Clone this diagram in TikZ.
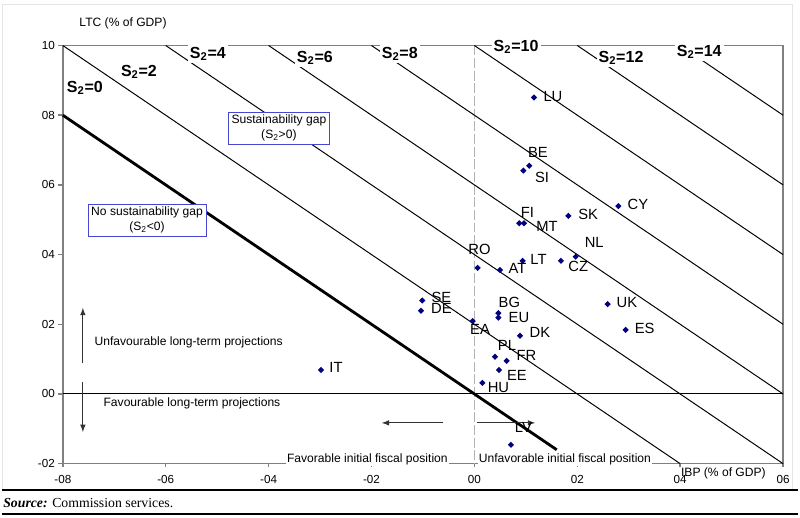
\documentclass[tikz,border=0pt]{standalone}
\usepackage{fontspec}
\setmainfont{Liberation Sans}
\newfontfamily\srcfont{Liberation Serif}
\usetikzlibrary{positioning, arrows, shapes.geometric}
\definecolor{navy}{RGB}{0,0,128}
\definecolor{boxblue}{RGB}{70,70,210}

\begin{document}
\begin{tikzpicture}[x=1.2863cm, y=0.87125cm,
	pt/.style={diamond, fill=navy, inner sep=0pt, minimum size=4.6pt},
	lbl/.style={font=\fontsize{10.5}{12}\selectfont, inner sep=0pt},
	tick/.style={font=\fontsize{8.3}{10}\selectfont, inner sep=0pt},
	sval/.style={font=\fontsize{11.4}{13}\selectfont\bfseries, fill=white, inner sep=1.5pt},
	gapbox/.style={draw=boxblue, fill=white, align=center, font=\fontsize{8.6}{10.7}\selectfont, minimum height=22.8pt, inner sep=1pt},
	note/.style={font=\fontsize{8.6}{10}\selectfont, inner sep=1pt},
	frame/.style={gray, line width=1pt},
	arr/.style={-latex, black!80, line width=0.8pt}]
	\useasboundingbox (-9.221,-3.558) rectangle (6.329,11.306);
	\draw[gray!20] (-9.18,11.19) rectangle (6.17,-2.755);

	\draw[frame] (-8,-2) rectangle (6,10);
	\foreach \v in {-2,0,...,10}
		\draw[frame] (-8,\v) -- ++(-0.1,0);
	\foreach \v in {-8,-6,...,6}
		\draw[frame] (\v,-2) -- ++(0,-0.09);
	\draw[gray!60, line width=0.8pt, dash pattern=on 7pt off 2pt] (0,10) -- (0,-2);
	\draw[line width=0.7pt] (-8,0) -- (6,0);

	\foreach \c [evaluate=\c as \ex using {min(6,\c+2)}, evaluate=\c as \ey using {max(-2,\c-6)}] in {2,4,...,14}
		\draw[line width=0.7pt] (\c-10,10) -- (\ex,\ey);
	\draw[line width=2pt] (-8,8) -- (1.6,-1.6);

	\foreach \k/\x/\y in {0/-7.57/8.78, 2/-6.52/9.24, 4/-5.18/9.76, 6/-3.10/9.64, 8/-1.45/9.76, 10/0.81/9.96, 12/2.85/9.64, 14/4.37/9.81}
		\node[sval] (s\k) at (\x,\y) {S\textsubscript{2}=\k};

	\node[gapbox, minimum width=72pt] (gap) at (-3.80,7.63) {Sustainability gap\\(S\textsubscript{2}>0)};
	\node[gapbox, minimum width=84pt] (nogap) at (-6.364,4.99) {No sustainability gap\\(S\textsubscript{2}<0)};

	\coordinate (up0) at (-7.61,0.89);
	\coordinate (up1) at (-7.61,2.47);
	\coordinate (dn0) at (-7.61,0.34);
	\coordinate (dn1) at (-7.61,-1.09);
	\coordinate (lf0) at (-0.61,-0.83);
	\coordinate (lf1) at (-1.80,-0.83);
	\coordinate (rt0) at (0.05,-0.83);
	\coordinate (rt1) at (1.18,-0.83);
	\draw[arr] (up0) -- (up1);
	\draw[arr] (dn0) -- (dn1);
	\draw[arr] (lf0) -- (lf1);
	\draw[arr] (rt0) -- (rt1);

	\node[note, anchor=west] (unfl) at (-7.415,1.49) {Unfavourable long-term projections};
	\node[note, anchor=west] (favl) at (-7.24,-0.26) {Favourable long-term projections};
	\node[note, fill=white] (favi) at (-2.08,-1.87) {Favorable initial fiscal position};
	\node[note, fill=white] (unfi) at (1.76,-1.87) {Unfavorable initial fiscal position};

	\foreach \n/\mx/\my/\lx/\ly in {LU/1.158/8.51/1.527/8.55, BE/1.067/6.55/1.236/6.93, SI/0.951/6.41/1.314/6.21,
		CY/2.797/5.39/3.18/5.44, SK/1.825/5.11/2.21/5.15, FI/0.873/4.90/1.03/5.21, MT/0.964/4.90/1.41/4.81,
		NL/1.969/3.94/2.33/4.35, CZ/1.683/3.82/2.02/3.67, LT/0.938/3.82/1.246/3.86, AT/0.498/3.56/0.838/3.60,
		RO/0.064/3.62/0.099/4.16, SE/-1.013/2.68/-0.64/2.77, DE/-1.038/2.39/-0.64/2.45, BG/0.465/2.32/0.68/2.63,
		EU/0.465/2.19/0.867/2.20, EA/-0.033/2.09/0.109/1.84, DK/0.886/1.67/1.275/1.76, PL/0.400/1.07/0.634/1.38,
		FR/0.628/0.95/1.013/1.12, EE/0.478/0.69/0.828/0.52, HU/0.154/0.32/0.468/0.19, LV/0.711/-1.46/0.954/-0.96,
		IT/-2.982/0.69/-2.69/0.76, UK/2.59/2.58/2.966/2.63, ES/2.94/1.84/3.31/1.89}
	{
		\node[pt] (\n) at (\mx,\my) {};
		\node[lbl] (\n-l) at (\lx,\ly) {\n};
	}

	\foreach \v/\t in {10/10, 8/08, 6/06, 4/04, 2/02, 0/00, -2/-02}
		\node[tick, anchor=east] (y\v) at (-8.15,\v) {\t};
	\foreach \v/\t in {-8/-08, -6/-06, -4/-04, -2/-02, 0/00, 2/02, 4/04, 6/06}
		\node[tick] (x\v) at (\v,-2.44) {\t};
	\node[note] (ltc) at (-6.83,10.64) {LTC (\% of GDP)};
	\node[note] (ibp) at (4.84,-2.27) {IBP (\% of GDP)};

	\draw[line width=1.4pt] (-9.18,-2.755) -- (6.29,-2.755);
	\draw[line width=1pt] (-9.18,-3.443) -- (6.29,-3.443);
	\node[anchor=west, inner sep=0pt, font=\srcfont\fontsize{9.8}{12}\selectfont] (src) at (-9.162,-3.128) {\textbf{\textit{Source:}} Commission services.};
\end{tikzpicture}
\end{document}
